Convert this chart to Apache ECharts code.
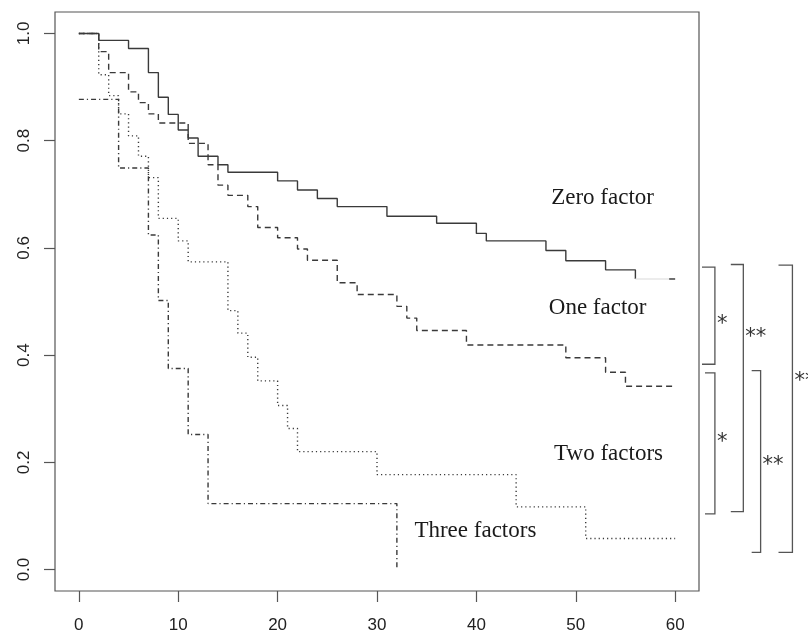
<!DOCTYPE html>
<html>
<head>
<meta charset="utf-8">
<script src="https://cdn.jsdelivr.net/npm/echarts@6/dist/echarts.min.js"></script>
<style>
  html, body { margin: 0; padding: 0; background: #fff; }
  #chart { width: 808px; height: 637px; }
</style>
</head>
<body>
<div id="chart"></div>
<script>
// tick labels
const xTicks = [0, 10, 20, 30, 40, 50, 60];
const yTicks = [0, 0.2, 0.4, 0.6, 0.8, 1.0];

// Kaplan-Meier steps (time, survival)
const zeroTime = [0, 2, 5, 7, 8, 9, 10, 11, 12, 14, 15, 20, 22, 24, 26, 31, 36, 40, 41, 47, 49, 53, 56];
const zeroSurv = [1.0, 0.987, 0.972, 0.927, 0.881, 0.849, 0.820, 0.805, 0.771, 0.755, 0.741, 0.725, 0.708, 0.692, 0.677, 0.659, 0.646, 0.627, 0.613, 0.595, 0.576, 0.559, 0.542];
// faint tail of the zero-factor curve after the last event
const zeroTailTime = [56, 60];
const zeroTailSurv = [0.542, 0.542];
const zeroEndTime = [59.4, 60];
const zeroEndSurv = [0.542, 0.542];

const oneTime = [0, 2, 3, 5, 6, 7, 8, 11, 13, 14, 15, 17, 18, 20, 22, 23, 26, 28, 32, 33, 34, 39, 49, 53, 55, 60];
const oneSurv = [1.0, 0.966, 0.927, 0.891, 0.871, 0.850, 0.833, 0.795, 0.755, 0.717, 0.698, 0.677, 0.638, 0.619, 0.598, 0.577, 0.535, 0.513, 0.491, 0.469, 0.446, 0.419, 0.395, 0.368, 0.342, 0.342];

const twoTime = [0, 2, 3, 4, 5, 6, 7, 8, 10, 11, 15, 16, 17, 18, 20, 21, 22, 30, 44, 51, 60];
const twoSurv = [1.0, 0.923, 0.884, 0.850, 0.809, 0.771, 0.731, 0.655, 0.613, 0.574, 0.483, 0.441, 0.396, 0.352, 0.306, 0.263, 0.220, 0.177, 0.117, 0.058, 0.058];

const threeTime = [0, 4, 7, 8, 9, 11, 13, 32];
const threeSurv = [0.877, 0.749, 0.624, 0.502, 0.375, 0.252, 0.123, 0.003];

// curve names written inside the plot
const groupNames = ['Zero factor', 'One factor', 'Two factors', 'Three factors'];
const groupNameTime = [52.7, 52.2, 53.3, 39.9];
const groupNameSurv = [0.694, 0.488, 0.215, 0.072];

// significance brackets on the right (survival span + stars)
const bracketTop = [0.564, 0.569, 0.367, 0.371, 0.568];
const bracketBottom = [0.383, 0.108, 0.104, 0.032, 0.032];
const bracketStarAt = [0.466, 0.442, 0.247, 0.204, 0.360];
const bracketStars = ['*', '**', '*', '**', '**'];
// columns, in time units past the axis end
const bracketLeft = [62.7, 65.6, 63.0, 67.7, 70.4];
const bracketRight = [64.0, 66.86, 64.0, 68.6, 71.8];

const ink = '#3a3a3a';
const serif = '"Liberation Serif", "Times New Roman", serif';
const sans = '"Liberation Sans", Arial, sans-serif';

function pairs(t, s) {
  return t.map((x, i) => [x, s[i]]);
}

function stepLine(name, t, s, dash, color) {
  return {
    name: name,
    type: 'line',
    step: 'end',
    data: pairs(t, s),
    symbol: 'none',
    silent: true,
    clip: false,
    lineStyle: { color: color || ink, width: 1.4, type: dash }
  };
}

const chart = echarts.init(document.getElementById('chart'), null, { renderer: 'canvas' });

const option = {
  animation: false,
  backgroundColor: '#fff',
  grid: {
    left: 55, right: 109, top: 12, bottom: 46,
    show: true, borderColor: '#555', borderWidth: 1.2,
    containLabel: false
  },
  xAxis: {
    type: 'value',
    min: -2.4, max: 62.4,
    axisLine: { show: false, onZero: false },
    splitLine: { show: false },
    axisTick: { show: true, inside: false, length: 11, customValues: xTicks, lineStyle: { color: '#555', width: 1.2 } },
    axisLabel: {
      customValues: xTicks, margin: 26,
      color: '#222', fontSize: 17, fontFamily: sans
    }
  },
  yAxis: {
    type: 'value',
    min: -0.04, max: 1.04,
    axisLine: { show: false, onZero: false },
    splitLine: { show: false },
    axisTick: { show: true, inside: false, length: 11, customValues: yTicks, lineStyle: { color: '#555', width: 1.2 } },
    axisLabel: {
      customValues: yTicks, margin: 22, rotate: 90,
      color: '#222', fontSize: 17, fontFamily: sans,
      formatter: v => v.toFixed(1)
    }
  },
  series: [
    stepLine('Zero factor', zeroTime, zeroSurv, 'solid'),
    stepLine('Zero tail', zeroTailTime, zeroTailSurv, 'solid', '#e6e6e6'),
    stepLine('Zero end', zeroEndTime, zeroEndSurv, 'solid'),
    stepLine('One factor', oneTime, oneSurv, [6, 4]),
    stepLine('Two factors', twoTime, twoSurv, [1.2, 3]),
    stepLine('Three factors', threeTime, threeSurv, [5, 3, 1.2, 3]),
    {
      type: 'custom',
      silent: true,
      clip: false,
      data: pairs(groupNameTime, groupNameSurv),
      renderItem: function (params, api) {
        const p = api.coord([api.value(0), api.value(1)]);
        return {
          type: 'text',
          x: p[0], y: p[1],
          style: {
            text: groupNames[params.dataIndex],
            font: '23px ' + serif,
            fill: '#1a1a1a',
            align: 'center', verticalAlign: 'middle'
          }
        };
      }
    },
    {
      type: 'custom',
      silent: true,
      clip: false,
      data: bracketTop.map((t, i) => [bracketLeft[i], bracketRight[i], t, bracketBottom[i], bracketStarAt[i]]),
      renderItem: function (params, api) {
        const a = api.coord([api.value(0), api.value(2)]);
        const b = api.coord([api.value(1), api.value(2)]);
        const c = api.coord([api.value(1), api.value(3)]);
        const d = api.coord([api.value(0), api.value(3)]);
        const s = api.coord([api.value(1), api.value(4)]);
        return {
          type: 'group',
          children: [
            {
              type: 'polyline',
              shape: { points: [a, b, c, d] },
              style: { stroke: '#555', fill: null, lineWidth: 1.3 }
            },
            {
              type: 'text',
              x: s[0] + 2, y: s[1] + 5,
              style: {
                text: bracketStars[params.dataIndex],
                font: '21px "DejaVu Sans", sans-serif',
                fill: '#333',
                align: 'left', verticalAlign: 'middle'
              }
            }
          ]
        };
      }
    }
  ]
};

chart.setOption(option);
</script>
</body>
</html>
